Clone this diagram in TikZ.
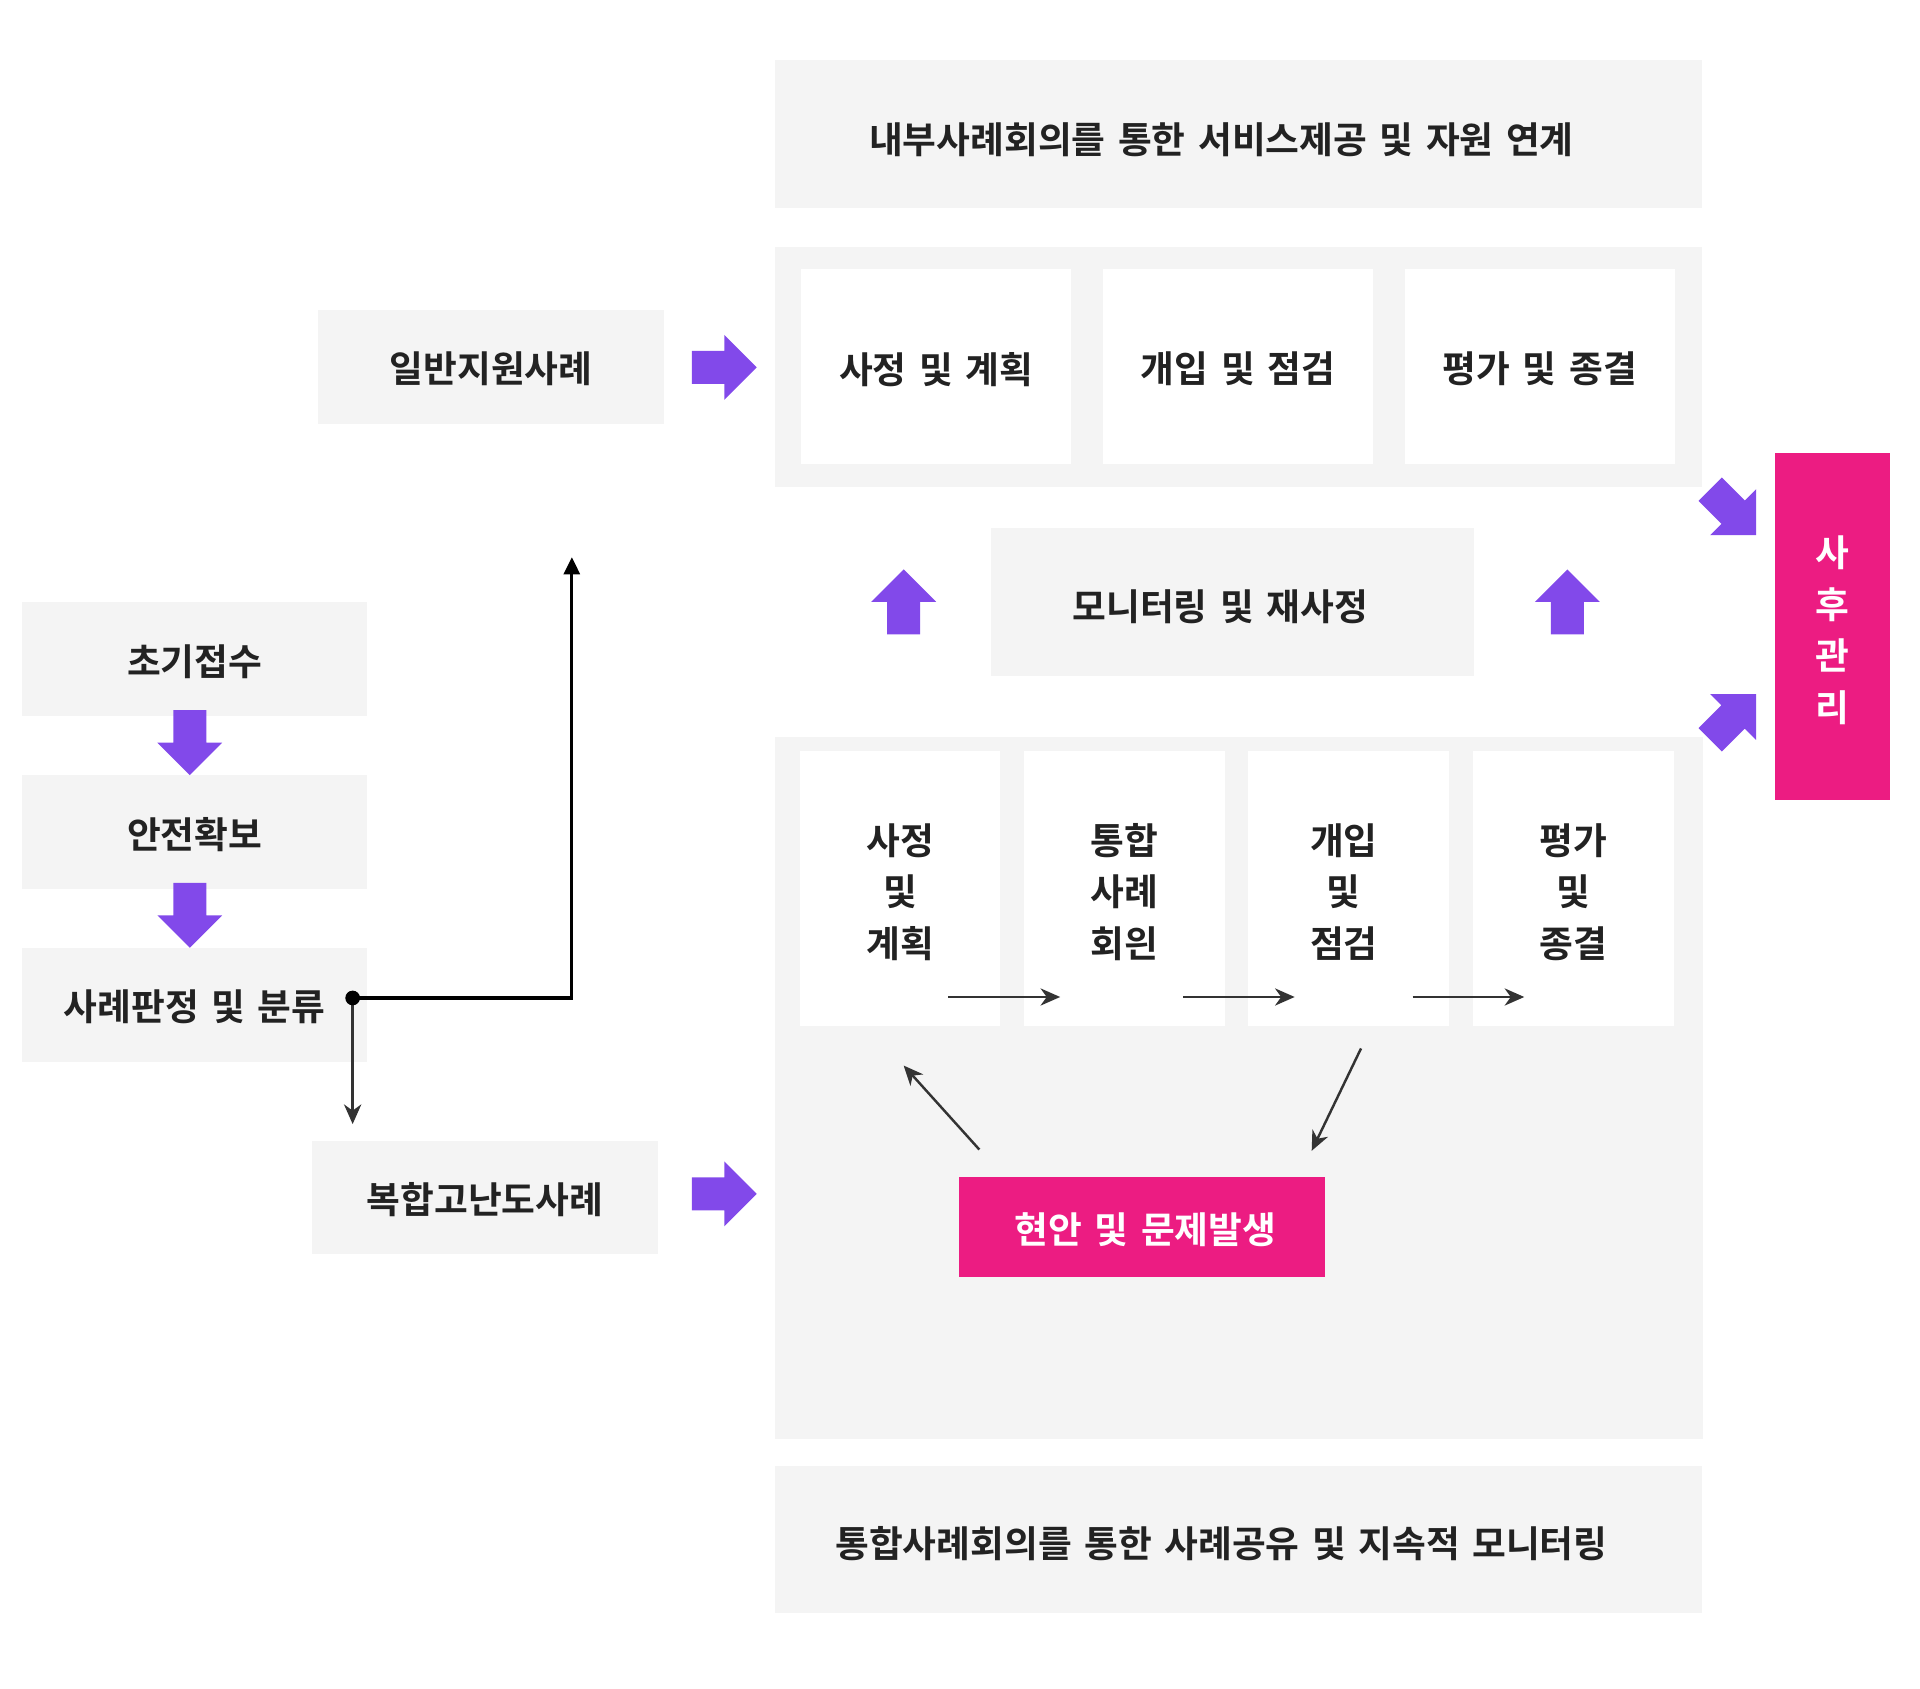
\documentclass[tikz,border=0pt]{standalone}
\usepackage{fontspec}
\setmainfont{Noto Sans CJK KR}[BoldFont=* Bold, WordSpace=1.5]
\usetikzlibrary{arrows.meta}
\definecolor{boxgrey}{RGB}{244,244,244}
\definecolor{inkgrey}{RGB}{34,34,34}
\definecolor{linegrey}{RGB}{51,51,51}
\definecolor{arrowpurple}{RGB}{130,73,234}
\definecolor{hotpink}{RGB}{236,28,130}
% shift a label right by #1 and down by #2, keeping its box
\newcommand{\nudge}[3]{\raisebox{-#2}[\height][\depth]{\hspace*{#1}#3\hspace*{-#1}}}
\newcommand{\stack}[2]{\parbox{#1}{\centering #2}}

\begin{document}
\begin{tikzpicture}[x=1pt, y=-1pt,
    font=\fontsize{30}{42}\selectfont\bfseries,
    greybox/.style={fill=boxgrey, text=inkgrey, inner sep=0pt, align=center},
    whitebox/.style={fill=white, text=inkgrey, inner sep=0pt, align=center},
    pinkbox/.style={fill=hotpink, text=white, inner sep=0pt, align=center},
    flow/.style={draw=linegrey, line width=2pt, -{Stealth[length=16pt, width=14pt, inset=5pt]}},
    split/.style={draw=black, line width=2.5pt, -{Triangle[length=14pt, width=13pt]}},
    fatarrow/.pic={\fill[arrowpurple] (-26.5,-13.5) -- (0,-13.5) -- (0,-26.5) -- (26.5,0) -- (0,26.5) -- (0,13.5) -- (-26.5,13.5) -- cycle;}]
    \useasboundingbox (0,0) rectangle (1568,1379);

    % Intake column
    \node[greybox, minimum width=282, minimum height=93] (intake) at (159,538.5) {\nudge{0pt}{2pt}{초기접수}};
    \node[greybox, minimum width=282, minimum height=93] (safety) at (159,679.5) {\nudge{0pt}{2pt}{안전확보}};
    \node[greybox, minimum width=282, minimum height=93] (classify) at (159,820.5) {\nudge{0pt}{2pt}{사례판정 및 분류}};
    \pic[rotate=-90] at (155,606.5) {fatarrow};
    \pic[rotate=-90] at (155,747.5) {fatarrow};

    % Case types
    \node[greybox, minimum width=282, minimum height=93] (general) at (401,299.5) {\nudge{0pt}{2pt}{일반지원사례}};
    \node[greybox, minimum width=282, minimum height=92] (complex) at (396,978) {\nudge{0pt}{2pt}{복합고난도사례}};
    \pic at (591.5,300) {fatarrow};
    \pic at (591.5,975) {fatarrow};

    % Split
    \coordinate (splitdot) at (288,815);
    \coordinate (splitup) at (467,455);
    \coordinate (splitdown) at (288,918);
    \draw[split] (splitdot) -| (splitup);
    \draw[flow, line width=2.5pt] (splitdot) -- (splitdown);
    \fill[black] (splitdot) circle (6);

    % Internal case meeting
    \node[greybox, minimum width=757, minimum height=121] (internal) at (1011.5,109.5) {\nudge{-14pt}{5pt}{내부사례회의를 통한 서비스제공 및 자원 연계}};
    \node[greybox, minimum width=757, minimum height=196] (plainpanel) at (1011.5,300) {};
    \node[whitebox, minimum width=221, minimum height=159] (plan) at (764.5,299.5) {\nudge{0pt}{2pt}{사정 및 계획}};
    \node[whitebox, minimum width=221, minimum height=159] (act) at (1011,299.5) {\nudge{0pt}{2pt}{개입 및 점검}};
    \node[whitebox, minimum width=221, minimum height=159] (close) at (1257.5,299.5) {\nudge{0pt}{2pt}{평가 및 종결}};

    % Monitoring
    \node[greybox, minimum width=395, minimum height=121] (monitor) at (1006.5,491.5) {\nudge{-10pt}{4pt}{모니터링 및 재사정}};
    \pic[rotate=90] at (738,491.5) {fatarrow};
    \pic[rotate=90] at (1280,491.5) {fatarrow};

    % Integrated case meeting
    \node[greybox, minimum width=758, minimum height=573] (casepanel) at (1012,888.5) {};
    \node[whitebox, minimum width=164, minimum height=225] (cplan) at (735,725.5) {\nudge{0pt}{3pt}{\stack{2em}{사정\\및\\계획}}};
    \node[whitebox, minimum width=164, minimum height=225] (cmeet) at (918,725.5) {\nudge{0pt}{3pt}{\stack{2em}{통합\\사례\\회읜}}};
    \node[whitebox, minimum width=164, minimum height=225] (cact) at (1101.5,725.5) {\nudge{-4pt}{3pt}{\stack{2em}{개입\\및\\점검}}};
    \node[whitebox, minimum width=164, minimum height=225] (cclose) at (1285,725.5) {\nudge{0pt}{3pt}{\stack{2em}{평가\\및\\종결}}};
    \draw[flow] ([xshift=-43pt, yshift=24pt]cplan.south east) -- ([xshift=30pt, yshift=24pt]cmeet.south west);
    \draw[flow] ([xshift=-34pt, yshift=24pt]cmeet.south east) -- ([xshift=38pt, yshift=24pt]cact.south west);
    \draw[flow] ([xshift=-30pt, yshift=24pt]cact.south east) -- ([xshift=42pt, yshift=24pt]cclose.south west);
    \node[pinkbox, minimum width=299, minimum height=82] (issue) at (932.5,1002) {\nudge{3pt}{2pt}{현안 및 문제발생}};
    \draw[flow] ([xshift=17pt, yshift=22pt]issue.north west) -- ([xshift=3pt, yshift=-32pt]cplan.south);
    \draw[flow] ([xshift=10pt, yshift=-18pt]cact.south) -- ([xshift=-11pt, yshift=21pt]issue.north east);
    \node[greybox, minimum width=757, minimum height=120] (shared) at (1011.5,1257) {\nudge{-14pt}{4pt}{통합사례회의를 통한 사례공유 및 지속적 모니터링}};

    % Aftercare
    \node[pinkbox, minimum width=94, minimum height=283] (after) at (1496.5,511.8) {\nudge{0pt}{3pt}{\stack{1em}{사\\후\\관\\리}}};
    \pic[rotate=-45] at (1415.4,418.2) {fatarrow};
    \pic[rotate=45] at (1415.4,585.5) {fatarrow};
\end{tikzpicture}
\end{document}
